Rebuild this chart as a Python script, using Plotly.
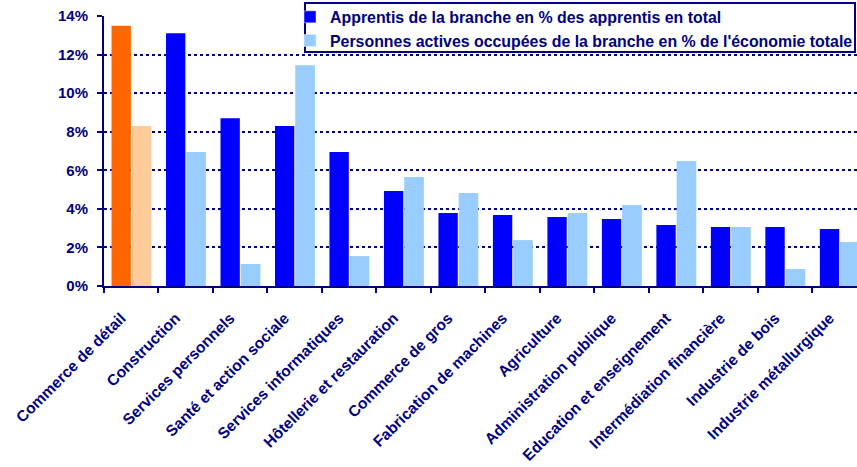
import plotly.graph_objects as go

categories = [
    "Commerce de détail", "Construction", "Services personnels",
    "Santé et action sociale", "Services informatiques",
    "Hôtellerie et restauration", "Commerce de gros",
    "Fabrication de machines", "Agriculture", "Administration publique",
    "Education et enseignement", "Intermédiation financière",
    "Industrie de bois", "Industrie métallurgique",
]
apprentis = [13.5, 13.1, 8.7, 8.3, 6.95, 4.92, 3.78, 3.68, 3.58, 3.47, 3.16, 3.06, 3.06, 2.95]
actifs = [8.3, 6.95, 1.14, 11.45, 1.55, 5.65, 4.82, 2.38, 3.78, 4.2, 6.48, 3.06, 0.88, 2.28]
y_ticks = [0, 2, 4, 6, 8, 10, 12, 14]
y_labels = [f"{v}%" for v in y_ticks]

name_a = "Apprentis de la branche en % des apprentis en total"
name_b = "Personnes actives occupées de la branche en % de l'économie totale"

DARK = "#0000FF"
LIGHT = "#99CCFF"
ORANGE = "#FF6600"
LORANGE = "#FFCC99"
NAVY = "#000080"
FONT = "Arial, Liberation Sans, sans-serif"

col_a = [ORANGE] + [DARK] * (len(categories) - 1)
col_b = [LORANGE] + [LIGHT] * (len(categories) - 1)

fig = go.Figure()
fig.add_trace(go.Bar(x=categories, y=apprentis, marker=dict(color=col_a, line=dict(width=0)),
                     width=0.355, offset=-0.362, showlegend=False, name=name_a))
fig.add_trace(go.Bar(x=categories, y=actifs, marker=dict(color=col_b, line=dict(width=0)),
                     width=0.36, offset=0.01, showlegend=False, name=name_b))
# legend entries
fig.add_trace(go.Bar(x=[None], y=[None], marker=dict(color=DARK), name=name_a))
fig.add_trace(go.Bar(x=[None], y=[None], marker=dict(color=LIGHT), name=name_b))

# legend frame (white box covering gridlines)
fig.add_shape(type="rect", xref="paper", yref="paper",
              x0=(305 - 104) / 753, x1=(855 - 104) / 753,
              y0=(286 - 52) / 270, y1=(286 - 3) / 270,
              fillcolor="white", line=dict(color=NAVY, width=2), layer="above")

fig.update_layout(
    width=857, height=467,
    margin=dict(l=104, r=0, t=16, b=181, autoexpand=False),
    paper_bgcolor="white", plot_bgcolor="white",
    barmode="overlay",
    font=dict(family=FONT, color=NAVY, size=14, weight="bold"),
    legend=dict(
        x=(290 - 104) / 753, y=(286 - 0) / 270, xanchor="left", yanchor="top",
        bgcolor="rgba(0,0,0,0)", borderwidth=0, itemwidth=30,
        font=dict(family=FONT, color=NAVY, size=15.9, weight="bold"),
        itemclick=False, itemdoubleclick=False,
    ),
    xaxis=dict(
        type="category", range=[-0.5, 13.32], automargin=False,
        showline=True, linecolor=NAVY, linewidth=2,
        ticks="outside", tickson="boundaries", ticklen=5, tickwidth=2, tickcolor=NAVY,
        tickangle=-45, showgrid=False,
        ticklabelstandoff=15, ticklabelshift=-10,
        tickfont=dict(family=FONT, color=NAVY, size=15.5, weight="bold"),
    ),
    yaxis=dict(
        range=[0, 14], tickvals=y_ticks, ticktext=y_labels, automargin=False,
        showline=True, linecolor=NAVY, linewidth=2,
        ticks="outside", ticklen=5, tickwidth=2, tickcolor=NAVY,
        ticklabelstandoff=6,
        showgrid=True, gridcolor=NAVY, gridwidth=2, griddash="dot",
        zeroline=False,
        tickfont=dict(family=FONT, color=NAVY, size=15, weight="bold"),
    ),
)

fig.write_html("out.html", config={"displayModeBar": False},
               post_script="document.body.style.margin='0px';")
